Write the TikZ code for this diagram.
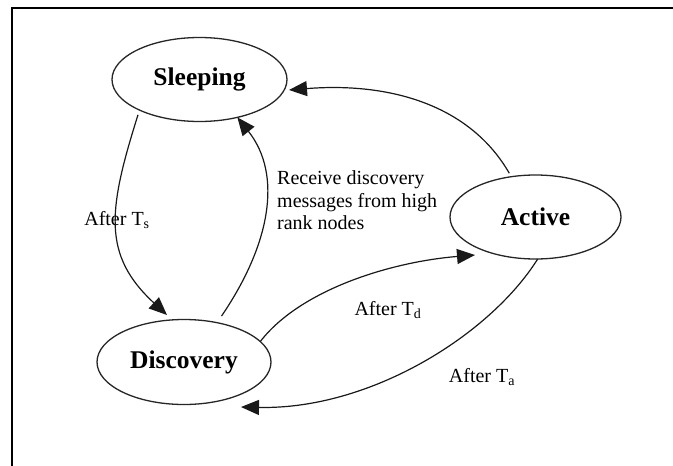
\documentclass[tikz,border=0pt]{standalone}
\usepackage{fontspec}
\setmainfont{Liberation Serif}
\usetikzlibrary{arrows.meta,shapes.geometric}
\begin{document}
\begin{tikzpicture}[x=1pt,y=-1pt,
  state/.style={ellipse, draw=black!85, line width=1.3pt, fill=white,
    inner sep=0pt, outer sep=0pt,
    font=\fontsize{25.5}{28}\selectfont\bfseries},
  trans/.style={draw=black!90, line width=1.2pt,
    -{Triangle[length=18pt,width=15pt]}},
  lbl/.style={inner sep=0pt, font=\fontsize{20}{22.5}\selectfont},
  frame/.style={line width=2pt}]
\useasboundingbox (0,0) rectangle (673,466);

% open frame: left and top sides
\draw[frame] (12,466) -- (12,8) -- (673,8);

% transition labels
\node[lbl, anchor=west, align=left] (rcv) at (277,200.5)
  {Receive discovery\\messages from high\\rank nodes};
\node[lbl] (ts) at (117,220) {After T\textsubscript{s}};
\node[lbl] (td) at (388,310) {After T\textsubscript{d}};
\node[lbl] (ta) at (482,377) {After T\textsubscript{a}};

% states
\node[state, minimum width=175, minimum height=84] (sleep) at (199.5,79.5) {Sleeping};
\node[state, minimum width=174, minimum height=85] (disc) at (184,362) {Discovery};
\node[state, minimum width=171, minimum height=84] (act) at (535.5,217) {Active};

% transitions
\draw[trans, shorten <=5pt] (sleep.207)
  .. controls (108,210) and (102,255) .. ([shift={(-17,-47)}]disc.center);
\draw[trans, shorten <=8pt] (disc.50)
  .. controls (270,245) and (283,175) .. (sleep.315);
\draw[trans, shorten <=4pt] (act.121)
  .. controls (470,105) and (390,82) .. ([shift={(89.5,10.5)}]sleep.center);
\draw[trans] (disc.15)
  .. controls (300,290) and (390,262) .. ([shift={(-60.5,38)}]act.center);
\draw[trans] (act.273)
  .. controls (490,335) and (370,410) .. ([shift={(57,45)}]disc.center);
\end{tikzpicture}
\end{document}
